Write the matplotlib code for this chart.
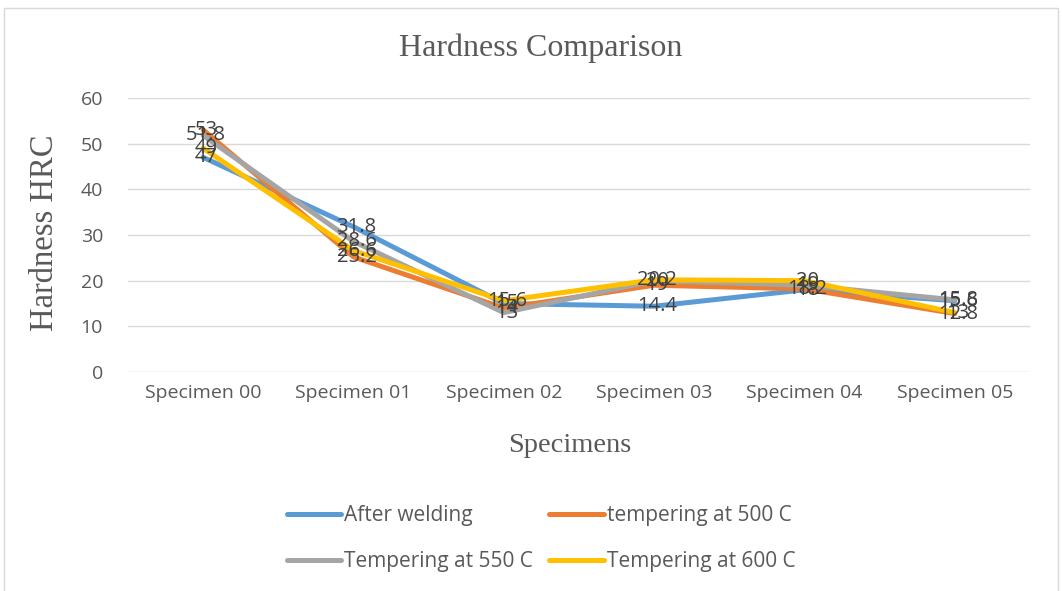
import numpy as np
import matplotlib.pyplot as plt
from matplotlib.patches import Rectangle

specimens = ["Specimen 00", "Specimen 01", "Specimen 02", "Specimen 03", "Specimen 04", "Specimen 05"]
after_welding = [47, 31.8, 15, 14.4, 18, 15.6]
temp_500 = [53, 25.2, 14, 19, 18.2, 12.8]
temp_550 = [51.8, 28.6, 13, 20, 19, 15.8]
temp_600 = [49, 26.6, 15.6, 20.2, 20, 13]

series = [
    ("After welding", after_welding, "#5B9BD5"),
    ("tempering at 500 C", temp_500, "#ED7D31"),
    ("Tempering at 550 C", temp_550, "#A5A5A5"),
    ("Tempering at 600 C", temp_600, "#FFC000"),
]

sans = "Open Sans"
serif = "Liberation Serif"
txt = "#595959"

fig = plt.figure(figsize=(10.62, 5.91), dpi=100)
fig.patches.append(Rectangle((0.004, -0.01), 0.992, 0.997, transform=fig.transFigure,
                             fill=False, edgecolor="#d9d9d9", linewidth=1))
ax = fig.add_axes([128 / 1062, 1 - 372 / 591, 902 / 1062, 274 / 591])

x = np.arange(len(specimens))
lines = []
for name, vals, col in series:
    ln, = ax.plot(x, vals, color=col, linewidth=3.6, label=name, solid_capstyle="round")
    lines.append(ln)
for name, vals, col in series:
    for xi, v in zip(x, vals):
        ax.text(xi + 0.02, v, f"{v:g}", ha="center", va="center", fontsize=14.5,
                color="#404040", family=sans)

ax.set_xlim(-0.5, 5.5)
ax.set_ylim(0, 60)
ax.set_yticks(range(0, 61, 10))
ax.set_xticks(x)
ax.set_xticklabels(specimens)
ax.grid(axis="y", color="#d9d9d9", linewidth=1)
ax.set_axisbelow(True)
for s in ax.spines.values():
    s.set_visible(False)
ax.tick_params(axis="x", length=0, labelsize=14, labelcolor=txt, pad=9)
ax.tick_params(axis="y", length=0, labelsize=14, labelcolor=txt, pad=18)
for lab in ax.get_xticklabels() + ax.get_yticklabels():
    lab.set_family(sans)

fig.text(541 / 1062, 1 - 48 / 591, "Hardness Comparison", ha="center", va="center",
         fontsize=23, color=txt, family=serif)
fig.text(45 / 1062, 1 - 233 / 591, "Hardness HRC", ha="center", va="center",
         rotation=90, fontsize=23.5, color=txt, family=serif)
fig.text(570 / 1062, 1 - 445 / 591, "Specimens", ha="center", va="center",
         fontsize=20.5, color=txt, family=serif)

# legend filled row by row like the reference
order = [0, 2, 1, 3]
fig.legend([lines[i] for i in order], [series[i][0] for i in order],
           loc="center", bbox_to_anchor=(541 / 1062, 1 - 539 / 591), ncol=2,
           frameon=False, prop={"family": sans, "size": 15},
           handlelength=2.6, handletextpad=0.15, columnspacing=0.8,
           labelspacing=1.2, labelcolor=txt)

fig.savefig("out.png", dpi=100)
